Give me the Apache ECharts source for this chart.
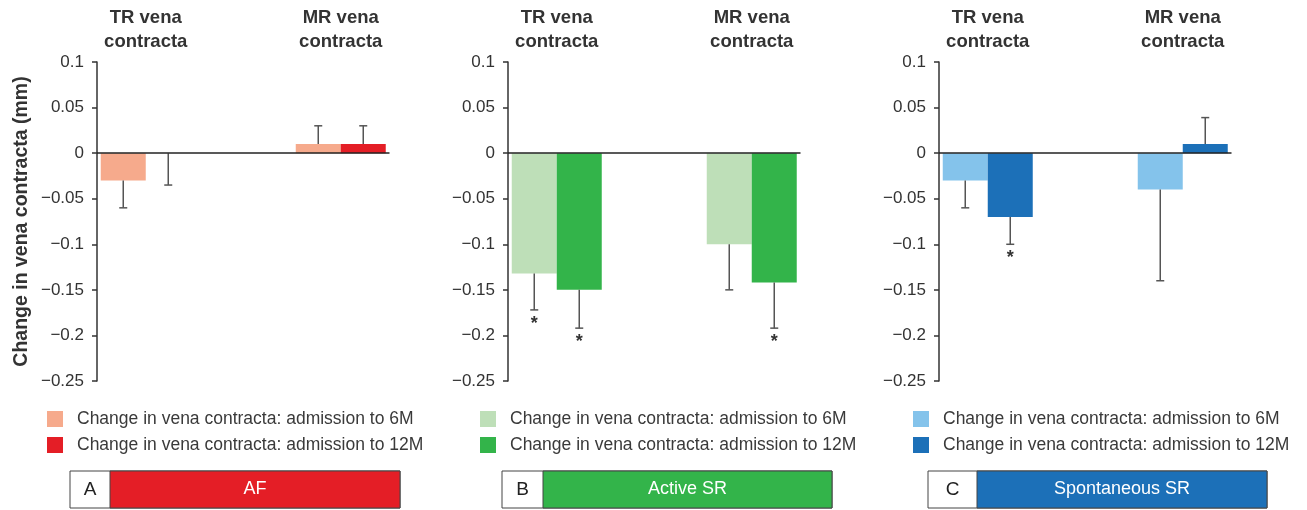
<!DOCTYPE html>
<html>
<head>
<meta charset="utf-8">
<script src="https://cdn.jsdelivr.net/npm/echarts@6/dist/echarts.min.js"></script>
<style>
  html, body { margin: 0; padding: 0; background: #fff; }
  #chart { width: 1307px; height: 510px; }
</style>
</head>
<body>
<div id="chart"></div>
<script>
// ---- data ----
const categories = ['TR vena\ncontracta', 'MR vena\ncontracta'];
const seriesNames = ['Change in vena contracta: admission to 6M', 'Change in vena contracta: admission to 12M'];
const yTicks = { min: -0.25, max: 0.1, interval: 0.05 };

// Panel A: AF
const afMean6 = [-0.03, 0.01];
const afErr6 = [-0.06, 0.03];
const afSig6 = [false, false];
const afMean12 = [0, 0.01];
const afErr12 = [-0.035, 0.03];
const afSig12 = [false, false];

// Panel B: Active SR
const activeMean6 = [-0.132, -0.1];
const activeErr6 = [-0.172, -0.15];
const activeSig6 = [true, false];
const activeMean12 = [-0.15, -0.142];
const activeErr12 = [-0.192, -0.192];
const activeSig12 = [true, true];

// Panel C: Spontaneous SR
const spontMean6 = [-0.03, -0.04];
const spontErr6 = [-0.06, -0.14];
const spontSig6 = [false, false];
const spontMean12 = [-0.07, 0.01];
const spontErr12 = [-0.1, 0.039];
const spontSig12 = [true, false];

const panelLetters = ['A', 'B', 'C'];
const panelTitles = ['AF', 'Active SR', 'Spontaneous SR'];

// ---- styling ----
const FONT = '"Liberation Sans", Arial, Helvetica, sans-serif';
const TEXT = '#333';
const panels = [
  { mean6: afMean6, err6: afErr6, sig6: afSig6, mean12: afMean12, err12: afErr12, sig12: afSig12,
    c6: '#F6AA8C', c12: '#E41E26', left: 97, legendLeft: 47, box: [70, 471, 330, 37, 40] },
  { mean6: activeMean6, err6: activeErr6, sig6: activeSig6, mean12: activeMean12, err12: activeErr12, sig12: activeSig12,
    c6: '#BEDFB8', c12: '#33B44A', left: 508, legendLeft: 480, box: [502, 471, 330, 37, 41] },
  { mean6: spontMean6, err6: spontErr6, sig6: spontSig6, mean12: spontMean12, err12: spontErr12, sig12: spontSig12,
    c6: '#84C3EB', c12: '#1C70B8', left: 939, legendLeft: 913, box: [928, 471, 339, 37, 49] }
];

const GRID_TOP = 62, GRID_H = 319, GRID_W = 292.5;
const BAR_FRAC = 45 / 97.5; // bar width as a share of a category band

// Axis categories with an empty spacer band between the two groups
const axisCats = [categories[0], '', categories[1]];
const spread = arr => [arr[0], null, arr[1]];

const fmtY = v => {
  const s = String(+(+v).toFixed(2));
  return s.replace('-', '\u2212');
};

const grids = [], xAxes = [], yAxes = [], series = [], legends = [], graphics = [];

panels.forEach((p, i) => {
  grids.push({ left: p.left, top: GRID_TOP, width: GRID_W, height: GRID_H, containLabel: false });
  xAxes.push({
    type: 'category', gridIndex: i, data: axisCats, position: 'top',
    axisLine: { show: false }, axisTick: { show: false }, splitLine: { show: false },
    axisLabel: { interval: 0, margin: 8, color: TEXT, fontFamily: FONT, fontWeight: 'bold', fontSize: 18.5, lineHeight: 24 }
  });
  yAxes.push({
    type: 'value', gridIndex: i, min: yTicks.min, max: yTicks.max, interval: yTicks.interval,
    axisLine: { show: true, onZero: false, lineStyle: { color: '#333', width: 1.5 } },
    axisTick: { show: true, length: 5, lineStyle: { color: '#333', width: 1.5 } },
    splitLine: { show: false },
    axisLabel: { color: TEXT, fontFamily: FONT, fontSize: 17, margin: 13, formatter: fmtY },
    name: i === 0 ? 'Change in vena contracta (mm)' : '',
    nameLocation: 'middle', nameRotate: 90, nameGap: 65,
    nameTextStyle: { color: TEXT, fontFamily: FONT, fontWeight: 'bold', fontSize: 19.5 }
  });

  const barW = (BAR_FRAC * 100).toFixed(2) + '%';
  series.push({
    name: seriesNames[0], type: 'bar', xAxisIndex: i, yAxisIndex: i,
    data: spread(p.mean6), barWidth: barW, barGap: '0%',
    itemStyle: { color: p.c6 }, silent: true, z: 2,
    markLine: {
      silent: true, symbol: 'none', label: { show: false },
      lineStyle: { color: '#222', width: 1.5, type: 'solid' },
      data: [{ yAxis: 0 }], z: 5
    }
  });
  series.push({
    name: seriesNames[1], type: 'bar', xAxisIndex: i, yAxisIndex: i,
    data: spread(p.mean12), barWidth: barW, barGap: '0%',
    itemStyle: { color: p.c12 }, silent: true, z: 2
  });

  // One-sided error bars with optional significance star
  [[p.mean6, p.err6, p.sig6, -1], [p.mean12, p.err12, p.sig12, 1]].forEach(([mean, err, sig, side]) => {
    const data = [];
    mean.forEach((m, k) => data.push([k === 0 ? 0 : 2, m, err[k], sig[k] ? 1 : 0]));
    series.push({
      type: 'custom', xAxisIndex: i, yAxisIndex: i, silent: true, z: 3,
      data: data,
      renderItem: (params, api) => {
        const band = api.size([1, 0])[0];
        const off = side * band * BAR_FRAC / 2;
        const top = api.coord([api.value(0), api.value(1)]);
        const end = api.coord([api.value(0), api.value(2)]);
        const x = top[0] + off;
        const cap = 4;
        const children = [
          { type: 'line', shape: { x1: x, y1: top[1], x2: x, y2: end[1] }, style: { stroke: '#555', lineWidth: 1.5 } },
          { type: 'line', shape: { x1: x - cap, y1: end[1], x2: x + cap, y2: end[1] }, style: { stroke: '#555', lineWidth: 1.5 } }
        ];
        if (api.value(3)) {
          children.push({
            type: 'text',
            style: { text: '*', x: x, y: end[1] + 5, align: 'center', verticalAlign: 'top',
                     fill: '#333', font: 'bold 18px ' + FONT }
          });
        }
        return { type: 'group', children: children };
      }
    });
  });

  legends.push({
    orient: 'vertical', left: p.legendLeft, top: 410, padding: 0, itemWidth: 16, itemHeight: 16, itemGap: 8,
    icon: 'rect', selectedMode: false,
    textStyle: { color: '#3a3a3a', fontFamily: FONT, fontSize: 17.5, padding: [0, 0, 0, 9] },
    data: [
      { name: seriesNames[0], itemStyle: { color: p.c6 } },
      { name: seriesNames[1], itemStyle: { color: p.c12 } }
    ]
  });

  const [bx, by, bw, bh, cw] = p.box;
  graphics.push({
    type: 'group', children: [
      { type: 'rect', shape: { x: bx, y: by, width: bw, height: bh }, style: { fill: '#fff', stroke: '#444', lineWidth: 1 } },
      { type: 'rect', shape: { x: bx + cw, y: by, width: bw - cw, height: bh }, style: { fill: p.c12, stroke: '#444', lineWidth: 1 } },
      { type: 'text', x: bx + cw / 2, y: by + bh / 2, style: { text: panelLetters[i], align: 'center', verticalAlign: 'middle', fill: '#222', font: '19px ' + FONT } },
      { type: 'text', x: bx + cw + (bw - cw) / 2, y: by + bh / 2, style: { text: panelTitles[i], align: 'center', verticalAlign: 'middle', fill: '#fff', font: '18px ' + FONT } }
    ]
  });
});

const chart = echarts.init(document.getElementById('chart'), null, { renderer: 'canvas' });
chart.setOption({
  animation: false,
  backgroundColor: '#fff',
  grid: grids, xAxis: xAxes, yAxis: yAxes,
  legend: legends, series: series, graphic: graphics
});
</script>
</body>
</html>
